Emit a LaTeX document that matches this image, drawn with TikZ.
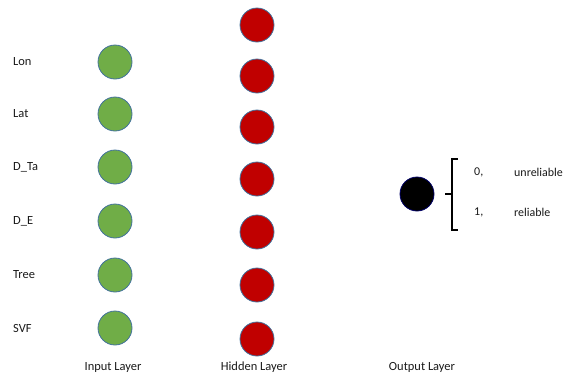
\documentclass[tikz,border=0pt]{standalone}
\usepackage{fontspec}
\setmainfont{Carlito}
\begin{document}
\begin{tikzpicture}[x=1bp,y=-1bp,
  neuron/.style={circle,minimum size=34bp,inner sep=0pt,line width=0.8bp},
  innode/.style={neuron,fill=ingreen,draw=inrim},
  hidnode/.style={neuron,fill=hidred,draw=inrim},
  outnode/.style={neuron,fill=black,draw=blue!40!black},
  txt/.style={font=\fontsize{12.5}{14}\selectfont,text=black!90,inner sep=0pt},
  feat/.style={txt,anchor=west},
  layer/.style={txt},
  cls/.style={txt,anchor=west,font=\fontsize{12}{14}\selectfont}]
\definecolor{ingreen}{HTML}{70AD47}
\definecolor{inrim}{HTML}{41719C}
\definecolor{hidred}{HTML}{C00000}
\useasboundingbox (0,0) rectangle (569,374);
% input layer
\foreach \i/\y/\t in {1/62/Lon,2/114/Lat,3/167/D\_Ta,4/221/D\_E,5/275/Tree,6/328/SVF}{
  \node[innode] (in\i) at (115,\y) {};
  \node[feat] (lab\i) at (13,\y) {\t};
}
% hidden layer
\foreach \i/\y in {1/25,2/76,3/127,4/179,5/232,6/285,7/339}{
  \node[hidnode] (h\i) at (257,\y) {};
}
% output layer
\node[outnode] (out) at (417,194) {};
% bracket of the two classes
\draw[line width=1.8bp] (458,159) -- (452,159) -- (452,230) -- (458,230);
\draw[line width=1.8bp] (452,194) -- (445,194);
\node[cls] (c0) at (474,172) {0,};
\node[cls] (c1) at (474,212) {1,};
\node[cls] (t0) at (514,172) {unreliable};
\node[cls] (t1) at (514,212) {reliable};
% layer captions
\node[layer] (capin) at (113,367) {Input Layer};
\node[layer] (caphid) at (254,367) {Hidden Layer};
\node[layer] (capout) at (422,367) {Output Layer};
\end{tikzpicture}
\end{document}
